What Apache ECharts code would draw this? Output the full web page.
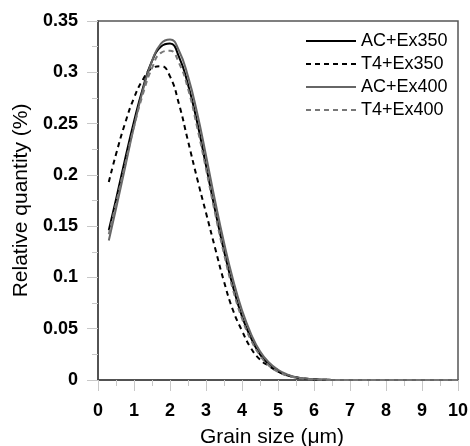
<!DOCTYPE html>
<html>
<head>
<meta charset="utf-8">
<script src="https://cdn.jsdelivr.net/npm/echarts@6/dist/echarts.min.js"></script>
<style>
html, body { margin: 0; padding: 0; background: #fff; }
#chart-panel { width: 470px; height: 446px; }
</style>
</head>
<body>
<div id="chart-panel"></div>
<script>
// grain size (um), shared by all four curves
var grainSize = [0.3, 0.5, 0.75, 1, 1.25, 1.5, 1.75, 2, 2.25, 2.5, 2.75, 3, 3.25, 3.5, 3.75, 4, 4.25, 4.5, 4.75, 5, 5.25, 5.5, 5.75, 6, 6.5, 7, 8, 9, 10];
var seriesNames = ['AC+Ex350', 'T4+Ex350', 'AC+Ex400', 'T4+Ex400'];
var acEx350 = [0.146, 0.176, 0.215, 0.252, 0.285, 0.311, 0.325, 0.328, 0.315, 0.288, 0.252, 0.209, 0.166, 0.126, 0.091, 0.062, 0.041, 0.025, 0.015, 0.0085, 0.0046, 0.0024, 0.0011, 0.0005, 0.0001, 0, 0, 0, 0];
var t4Ex350 = [0.193, 0.220, 0.250, 0.275, 0.293, 0.304, 0.306, 0.296, 0.269, 0.233, 0.197, 0.163, 0.129, 0.096, 0.068, 0.048, 0.031, 0.020, 0.0135, 0.0085, 0.005, 0.0028, 0.0014, 0.0007, 0.0001, 0, 0, 0, 0];
var acEx400 = [0.136, 0.167, 0.207, 0.247, 0.283, 0.311, 0.328, 0.332, 0.321, 0.296, 0.261, 0.219, 0.175, 0.134, 0.098, 0.068, 0.045, 0.028, 0.017, 0.010, 0.0054, 0.0028, 0.0014, 0.0007, 0.0001, 0, 0, 0, 0];
var t4Ex400 = [0.142, 0.172, 0.210, 0.247, 0.279, 0.304, 0.319, 0.321, 0.309, 0.284, 0.247, 0.206, 0.163, 0.123, 0.088, 0.060, 0.039, 0.024, 0.014, 0.008, 0.0043, 0.0022, 0.001, 0.0005, 0.0001, 0, 0, 0, 0];

var chart = echarts.init(document.getElementById('chart-panel'));
var font = 'Arial, "Liberation Sans", sans-serif';

function pairs(ys) {
    var d = [];
    for (var i = 0; i < grainSize.length; i++) {
        d.push([grainSize[i], ys[i]]);
    }
    return d;
}

function curve(name, ys, color, dashed) {
    return {
        name: name,
        type: 'line',
        data: pairs(ys),
        symbol: 'none',
        smooth: 0.5,
        lineStyle: {
            color: color,
            width: 2,
            type: dashed ? [5, 4] : 'solid'
        },
        itemStyle: { color: color }
    };
}

var axisText = { color: '#000', fontSize: 18, fontWeight: 'bold', fontFamily: font };

var option = {
    animation: false,
    backgroundColor: '#fff',
    grid: {
        left: 98, right: 12, top: 21, bottom: 66,
        outerBoundsMode: 'none',
        containLabel: false,
        show: true,
        borderColor: '#555',
        borderWidth: 1.5
    },
    legend: {
        orient: 'vertical',
        left: 305,
        top: 32,
        padding: 0,
        itemWidth: 50,
        itemHeight: 14,
        itemGap: 5,
        itemStyle: { opacity: 0 },
        textStyle: { color: '#000', fontSize: 18, fontFamily: font },
        data: seriesNames
    },
    xAxis: {
        type: 'value',
        min: 0,
        max: 10,
        interval: 1,
        name: 'Grain size (μm)',
        nameLocation: 'middle',
        nameGap: 47,
        nameTextStyle: { color: '#000', fontSize: 21, fontFamily: font, padding: [0, 12, 0, 0] },
        axisLine: { lineStyle: { color: '#444', width: 1.5 } },
        axisTick: { inside: false, length: 11, lineStyle: { color: '#c8c8c8' } },
        minorTick: { show: true, splitNumber: 2, length: 6, lineStyle: { color: '#c8c8c8' } },
        splitLine: { show: false },
        axisLabel: Object.assign({ margin: 22 }, axisText)
    },
    yAxis: {
        type: 'value',
        min: 0,
        max: 0.35,
        interval: 0.05,
        name: 'Relative quantity (%)',
        nameLocation: 'middle',
        nameGap: 55,
        nameTextStyle: { color: '#000', fontSize: 21, fontFamily: font },
        axisLine: { show: true, lineStyle: { color: '#444', width: 1.5 } },
        axisTick: { show: true, inside: false, length: 11, lineStyle: { color: '#c8c8c8' } },
        minorTick: { show: true, splitNumber: 2, length: 6, lineStyle: { color: '#c8c8c8' } },
        splitLine: { show: false },
        axisLabel: Object.assign({ margin: 20 }, axisText)
    },
    series: [
        curve(seriesNames[0], acEx350, '#000', false),
        curve(seriesNames[1], t4Ex350, '#000', true),
        curve(seriesNames[2], acEx400, '#666', false),
        curve(seriesNames[3], t4Ex400, '#777', true)
    ]
};
chart.setOption(option);
</script>
</body>
</html>
